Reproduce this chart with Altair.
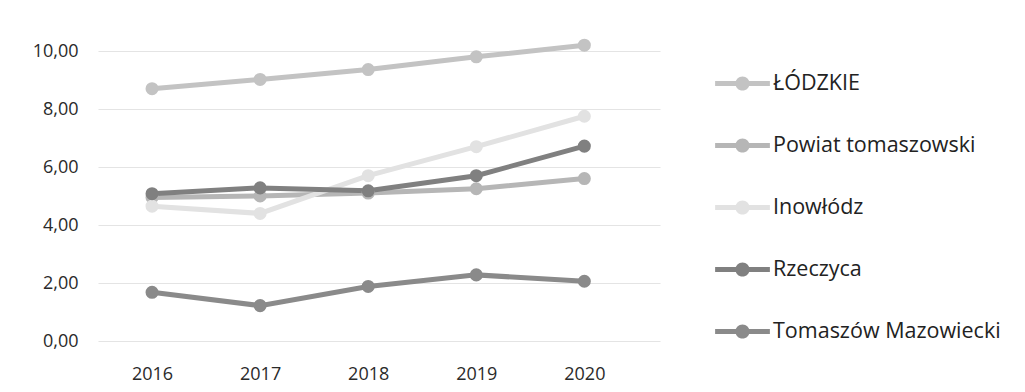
import altair as alt
import pandas as pd

years = [2016, 2017, 2018, 2019, 2020]
series_names = ["ŁÓDZKIE", "Powiat tomaszowski", "Inowłódz", "Rzeczyca", "Tomaszów Mazowiecki"]
lodzkie = [8.70, 9.02, 9.36, 9.80, 10.20]
powiat = [4.95, 5.00, 5.10, 5.25, 5.60]
inowlodz = [4.65, 4.40, 5.70, 6.70, 7.75]
rzeczyca = [5.08, 5.28, 5.18, 5.70, 6.72]
tomaszow = [1.68, 1.22, 1.88, 2.28, 2.06]
colors = ["#c3c3c3", "#b6b6b6", "#e2e2e2", "#808080", "#8a8a8a"]
y_ticks = [0, 2, 4, 6, 8, 10]

rows = []
for name, vals in zip(series_names, [lodzkie, powiat, inowlodz, rzeczyca, tomaszow]):
    for yr, v in zip(years, vals):
        rows.append({"year": yr, "value": v, "series": name})
df = pd.DataFrame(rows)

font = "Open Sans"
color_scale = alt.Scale(domain=series_names, range=colors)
x_enc = alt.X("year:Q", scale=alt.Scale(domain=[2015.5, 2020.7], nice=False, zero=False),
              axis=alt.Axis(values=years, format="d", title=None, grid=False, domain=False,
                            ticks=False, labelFontSize=18, labelColor="#2a2a2a", labelFont=font,
                            labelPadding=24))
y_enc = alt.Y("value:Q", scale=alt.Scale(domain=[0, 10], nice=False),
              axis=alt.Axis(values=y_ticks, title=None, domain=False, ticks=False,
                            labelExpr="replace(format(datum.value, '.2f'), '.', ',')",
                            labelFontSize=18, labelColor="#2a2a2a", labelFont=font,
                            labelPadding=20, gridColor="#e4e4e4", gridWidth=1.2))

sym_path = ("M-1,-0.09L1,-0.09L1,0.09L-1,0.09Z "
            "M0.26,0A0.26,0.26 0 1,1 -0.26,0A0.26,0.26 0 1,1 0.26,0Z")

legend = alt.Legend(title=None, orient="none", legendX=617, legendY=5,
                    symbolType=sym_path, symbolSize=3000, symbolStrokeWidth=0,
                    symbolOpacity=1, labelFontSize=21.5, labelFont=font,
                    labelColor="#222222", rowPadding=24, labelOffset=3,
                    padding=0, labelLimit=400)

base = alt.Chart(df)
lines = base.mark_line(strokeWidth=5, clip=False).encode(
    x=x_enc, y=y_enc,
    color=alt.Color("series:N", scale=color_scale, legend=legend),
    detail="series:N",
    order=alt.Order("year:Q"),
)
points = base.mark_circle(size=170, opacity=1, clip=False).encode(
    x=x_enc, y=y_enc,
    color=alt.Color("series:N", scale=color_scale, legend=legend),
)

chart = alt.layer(lines, points).properties(
    width=562, height=290,
    autosize=alt.AutoSizeParams(type="none"),
    padding={"left": 90, "top": 43, "right": 357, "bottom": 45},
    background="white",
).configure_view(stroke=None).configure_legend(symbolFillColor=None)

chart.save("out.html", embed_options={"renderer": "svg", "actions": False})
